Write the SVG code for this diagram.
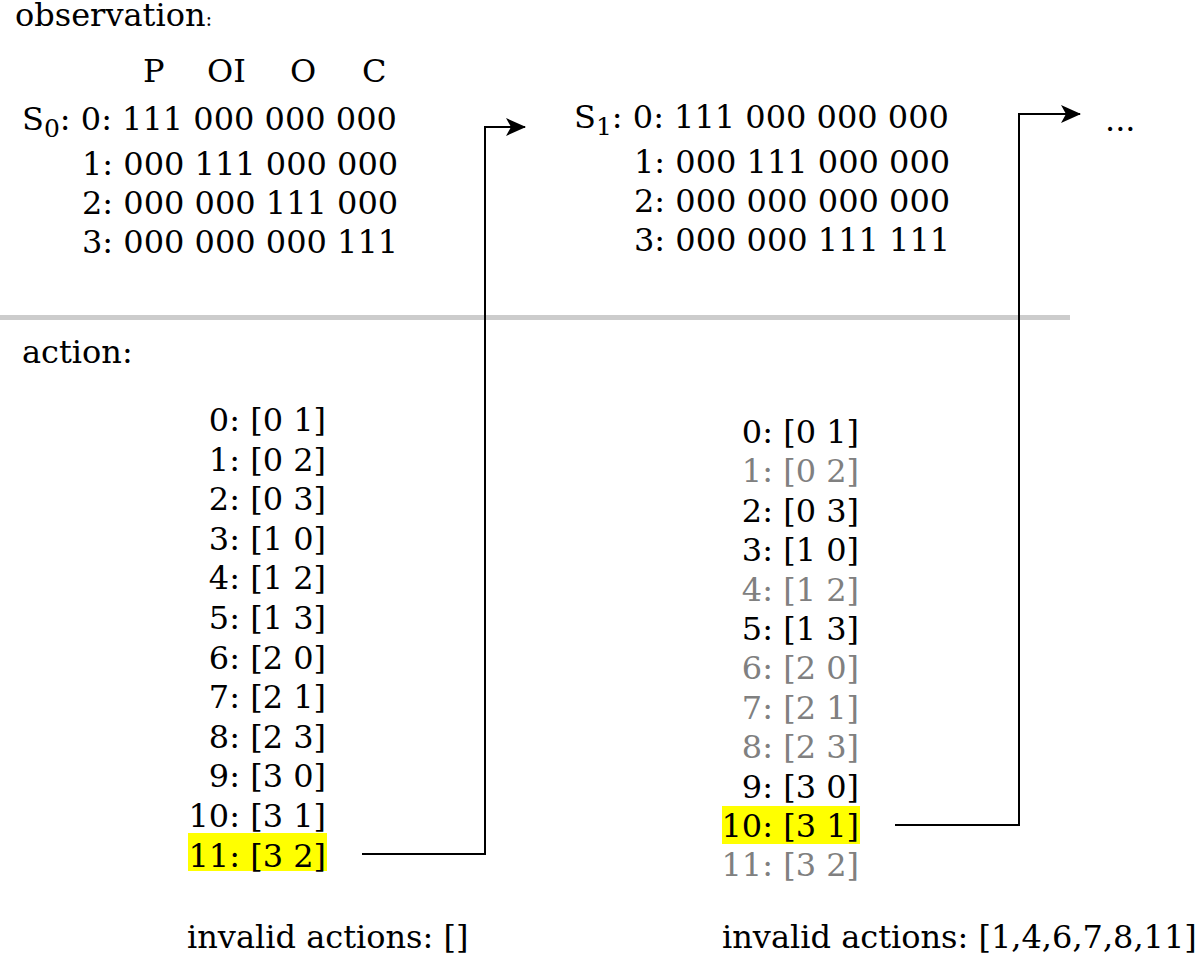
<svg xmlns="http://www.w3.org/2000/svg" width="1200" height="954" viewBox="0 0 1200 954">
<style>
text{font-family:"DejaVu Serif","Liberation Serif",serif;font-size:32px;fill:#000}
.g{fill:#808080}
.r{text-anchor:end}
.sub{font-size:25px}
.hl{fill:#ffff00}
.conn{fill:none;stroke:#000;stroke-width:2}
</style>
<defs>
<marker id="ah" markerWidth="20" markerHeight="18" refX="19" refY="9" orient="auto" markerUnits="userSpaceOnUse" viewBox="0 0 20 18">
<path d="M0,0 L20,9 L0,18 L5,9 Z" fill="#000"/>
</marker>
</defs>
<rect width="1200" height="954" fill="#fff"/>
<g id="observation-label"><text x="15" y="26">observation<tspan font-size="20">:</tspan></text></g>
<g id="header">
<text x="143" y="82">P</text>
<text x="207" y="82">OI</text>
<text x="290" y="82">O</text>
<text x="362" y="82">C</text>
</g>
<g id="s0">
<text x="22" y="130">S<tspan class="sub" dy="7">0</tspan><tspan dy="-7">: 0: 111 000 000 000</tspan></text>
<text x="82" y="175">1: 000 111 000 000</text>
<text x="82" y="214">2: 000 000 111 000</text>
<text x="82" y="253">3: 000 000 000 111</text>
</g>
<g id="s1">
<text x="574" y="128">S<tspan class="sub" dy="7">1</tspan><tspan dy="-7">: 0: 111 000 000 000</tspan></text>
<text x="634" y="173">1: 000 111 000 000</text>
<text x="634" y="212">2: 000 000 000 000</text>
<text x="634" y="251">3: 000 000 111 111</text>
</g>
<g id="ellipsis"><text x="1105" y="131">...</text></g>
<g id="divider"><line x1="0" y1="317.5" x2="1070" y2="317.5" stroke="#cccccc" stroke-width="5"/></g>
<g id="action-label"><text x="22" y="363">action:</text></g>
<g id="actions0">
<rect class="hl" x="188" y="833" width="139" height="38"/>
<text class="r" x="326" y="431">0: [0 1]</text>
<text class="r" x="326" y="470.6">1: [0 2]</text>
<text class="r" x="326" y="510.2">2: [0 3]</text>
<text class="r" x="326" y="549.8">3: [1 0]</text>
<text class="r" x="326" y="589.4">4: [1 2]</text>
<text class="r" x="326" y="629">5: [1 3]</text>
<text class="r" x="326" y="668.6">6: [2 0]</text>
<text class="r" x="326" y="708.2">7: [2 1]</text>
<text class="r" x="326" y="747.8">8: [2 3]</text>
<text class="r" x="326" y="787.4">9: [3 0]</text>
<text class="r" x="326" y="827">10: [3 1]</text>
<text class="r" x="326" y="866.6">11: [3 2]</text>
</g>
<g id="actions1">
<rect class="hl" x="722" y="806" width="138" height="38"/>
<text class="r" x="859" y="443">0: [0 1]</text>
<text class="r g" x="859" y="482.4">1: [0 2]</text>
<text class="r" x="859" y="521.8">2: [0 3]</text>
<text class="r" x="859" y="561.2">3: [1 0]</text>
<text class="r g" x="859" y="600.6">4: [1 2]</text>
<text class="r" x="859" y="640">5: [1 3]</text>
<text class="r g" x="859" y="679.4">6: [2 0]</text>
<text class="r g" x="859" y="718.8">7: [2 1]</text>
<text class="r g" x="859" y="758.2">8: [2 3]</text>
<text class="r" x="859" y="797.6">9: [3 0]</text>
<text class="r" x="859" y="837">10: [3 1]</text>
<text class="r g" x="859" y="876.4">11: [3 2]</text>
</g>
<g id="invalid0"><text x="187" y="948">invalid actions: []</text></g>
<g id="invalid1"><text x="722" y="948">invalid actions: [1,4,6,7,8,11]</text></g>
<g id="connectors">
<polyline class="conn" points="362,854 485,854 485,127 525,127" marker-end="url(#ah)"/>
<polyline class="conn" points="895,825 1019,825 1019,114 1080,114" marker-end="url(#ah)"/>
</g>
</svg>
